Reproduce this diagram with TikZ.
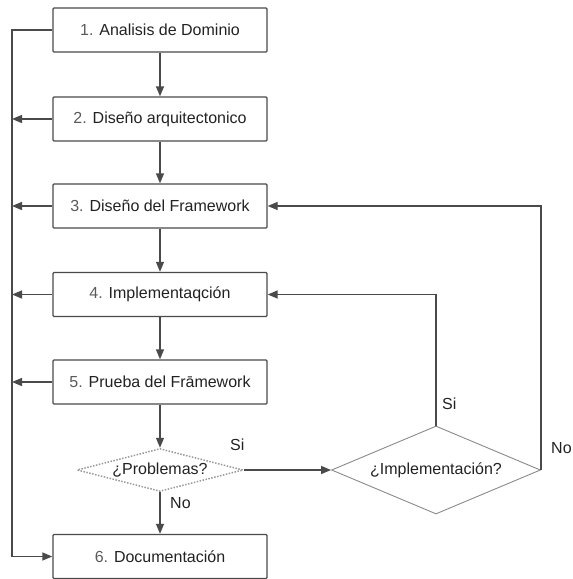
\documentclass[tikz,border=0pt]{standalone}
\usepackage{fontspec}
\setmainfont{Liberation Sans}
\usetikzlibrary{arrows.meta,shapes.geometric}

\definecolor{linegray}{HTML}{4A4A4A}
\definecolor{textgray}{HTML}{222222}
\definecolor{numgray}{HTML}{5A5A5A}
\definecolor{dotgray}{HTML}{9A9A9A}
\definecolor{thingray}{HTML}{8A8A8A}

\newcommand{\labfont}{\fontsize{16}{19}\selectfont}
\newcommand{\num}[1]{{\color{numgray}#1}}

\tikzset{
  stepbox/.style={draw=linegray, line width=1.4pt, rounded corners=1pt,
    minimum width=214pt, minimum height=44pt, inner sep=0pt,
    font=\labfont, text=textgray},
  arr/.style={draw=linegray, line width=1.4pt,
    -{Triangle[length=10pt,width=8pt]}},
  link/.style={draw=linegray, line width=1.4pt},
  lbl/.style={font=\labfont, text=textgray, inner sep=0pt, anchor=west},
  dotdiamond/.style={diamond, draw=dotgray, line width=1.5pt,
    dash pattern=on 1.5pt off 1.5pt, inner sep=0pt,
    minimum width=166pt, minimum height=43pt, aspect=3.86,
    font=\labfont, text=textgray},
  plaindiamond/.style={diamond, draw=thingray, line width=0.9pt,
    inner sep=0pt, minimum width=209pt, minimum height=88pt, aspect=2.375,
    font=\labfont, text=textgray}
}

\begin{document}
\begin{tikzpicture}[x=1pt,y=-1pt]
\useasboundingbox (0,0) rectangle (573,579);

% process steps
\node[stepbox] (b1) at (160,30)    {\num{1.} Analisis de Dominio};
\node[stepbox] (b2) at (160,119)   {\num{2.} Diseño arquitectonico};
\node[stepbox] (b3) at (160,206)   {\num{3.} Diseño del Framework};
\node[stepbox] (b4) at (160,294.5) {\num{4.} Implementaqción};
\node[stepbox] (b5) at (160,382)   {\num{5.} Prueba del Frāmework};
\node[stepbox] (b6) at (160,556.5) {\num{6.} Documentación};

% decisions
\node[dotdiamond]   (d1) at (160,470) {¿Problemas?};
\node[plaindiamond] (d2) at (436,470) {¿Implementación?};

% left rail
\coordinate (rail) at (12,0);

% main flow
\draw[arr] (b1.south) -- (b2.north);
\draw[arr] (b2.south) -- (b3.north);
\draw[arr] (b3.south) -- (b4.north);
\draw[arr] (b4.south) -- (b5.north);
\draw[arr] (b5.south) -- (d1.north);
\draw[arr] (d1.south) -- (b6.north);
\draw[arr] (d1.east) -- (d2.west);

% rail from step 1 down to documentation
\draw[arr] (b1.west) -- (b1.west -| rail) -- (b6.west -| rail) -- (b6.west);
\draw[arr] (b2.west) -- (b2.west -| rail);
\draw[arr] (b3.west) -- (b3.west -| rail);
\draw[arr] (b4.west) -- (b4.west -| rail);
\draw[arr] (b5.west) -- (b5.west -| rail);

% feedback loops
\draw[arr] (d2.north) |- (b4.east);
\draw[arr] (d2.east) |- (b3.east);

% branch labels
\node[lbl] (si1) at (230,445) {Si};
\node[lbl] (no1) at (170,503) {No};
\node[lbl] (si2) at (442,404) {Si};
\node[lbl] (no2) at (551,448) {No};
\end{tikzpicture}
\end{document}
